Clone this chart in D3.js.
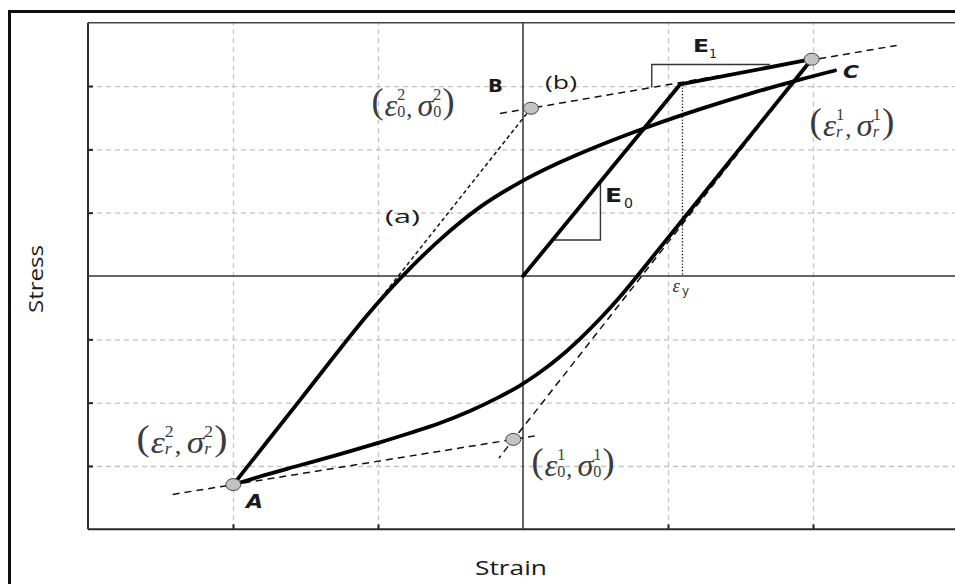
<!DOCTYPE html>
<html>
<head>
<meta charset="utf-8">
<script src="https://cdn.jsdelivr.net/npm/d3@7"></script>
<style>
  body { margin: 0; background: #fff; }
  svg { display: block; }
</style>
</head>
<body>
<svg id="chart" width="955" height="584"></svg>
<script>
// ---- Menegotto–Pinto steel hysteresis (schematic units) ----
const xDomain = [-3, 3];
const yDomain = [-4, 4];
const xTicks = [-2, -1, 1, 2];
const yTicks = [-3, -2, -1, 1, 2, 3];

// monotonic loading: elastic (E0) up to yield, then hardening (E1) to first reversal
const loadingPath = [[0, 0], [1.083, 3.025], [1.991, 3.423]];
// unloading from (εr1, σr1) down to reversal point A
const unloadingPath = [
  [1.991, 3.423], [1.388, 1.706], [0.784, -0.011], [0.669, -0.327], [0.531, -0.675],
  [0.393, -0.991], [0.255, -1.275], [0.117, -1.521], [-0.021, -1.73], [-0.159, -1.904],
  [-0.366, -2.131], [-0.572, -2.322], [-0.779, -2.48], [-0.986, -2.627], [-1.262, -2.812],
  [-1.538, -2.989], [-1.814, -3.166], [-1.998, -3.294]
];
// reloading branch (a) from A towards C
const reloadingPath = [
  [-1.998, -3.294], [-1.538, -1.959], [-1.079, -0.632], [-0.848, -0.041], [-0.572, 0.575],
  [-0.297, 1.087], [-0.021, 1.479], [0.255, 1.795], [0.531, 2.066], [0.876, 2.366],
  [1.221, 2.635], [1.566, 2.88], [1.91, 3.101], [2.152, 3.245]
];
// asymptotes (slope E1) and elastic lines (slope E0)
const upperAsymptote = [[-0.159, 2.566], [2.577, 3.641]];
const lowerAsymptote = [[-2.416, -3.449], [0.117, -2.512]];
const elasticReload = [[-1.998, -3.294], [0.055, 2.649]];
const elasticUnload = [[1.991, 3.423], [-0.166, -2.875]];
const yieldStrain = 1.10;
const yieldStress = 3.025;

const keyPoints = [
  { id: "A", strain: -1.998, stress: -3.294 },
  { id: "B", strain: 0.055, stress: 2.649 },
  { id: "r1", strain: 1.991, stress: 3.423 },
  { id: "o1", strain: -0.067, stress: -2.58 }
];

const svg = d3.select("#chart");
const x = d3.scaleLinear().domain(xDomain).range([88, 958]);
const y = d3.scaleLinear().domain(yDomain).range([529.3, 22.7]);

// outer frame
svg.append("rect")
  .attr("x", 9.5).attr("y", 11.5).attr("width", 1000).attr("height", 1000)
  .attr("fill", "none").attr("stroke", "#111").attr("stroke-width", 3);

// dashed grid
const gx = svg.append("g").attr("transform", `translate(0,${y(yDomain[0])})`)
  .call(d3.axisBottom(x).tickValues(xTicks).tickSize(-(y(yDomain[0]) - y(yDomain[1]))).tickFormat(""));
const gy = svg.append("g").attr("transform", `translate(${x(xDomain[0])},0)`)
  .call(d3.axisLeft(y).tickValues(yTicks).tickSize(-(x(xDomain[1]) - x(xDomain[0]))).tickFormat(""));
[gx, gy].forEach(g => {
  g.select(".domain").remove();
  g.selectAll(".tick line").attr("stroke", "#c4c4c4").attr("stroke-width", 1.3).attr("stroke-dasharray", "5,4");
});

// small inward ticks
const tx = svg.append("g").attr("transform", `translate(0,${y(yDomain[0])})`)
  .call(d3.axisBottom(x).tickValues(xTicks).tickSize(-5).tickFormat(""));
const ty = svg.append("g").attr("transform", `translate(${x(xDomain[0])},0)`)
  .call(d3.axisLeft(y).tickValues(yTicks).tickSize(-5).tickFormat(""));
[tx, ty].forEach(g => {
  g.select(".domain").remove();
  g.selectAll(".tick line").attr("stroke", "#222").attr("stroke-width", 2);
});

// plot border (left, top, bottom)
svg.append("line").attr("x1", x(xDomain[0])).attr("x2", x(xDomain[0]))
  .attr("y1", y(yDomain[1])).attr("y2", y(yDomain[0])).attr("stroke", "#2a2a2a").attr("stroke-width", 2);
svg.append("line").attr("x1", x(xDomain[0])).attr("x2", x(xDomain[1]))
  .attr("y1", y(yDomain[1])).attr("y2", y(yDomain[1])).attr("stroke", "#444").attr("stroke-width", 1.6);
svg.append("line").attr("x1", x(xDomain[0])).attr("x2", x(xDomain[1]))
  .attr("y1", y(yDomain[0])).attr("y2", y(yDomain[0])).attr("stroke", "#2a2a2a").attr("stroke-width", 2);

// zero axes
svg.append("line").attr("x1", x(0)).attr("x2", x(0))
  .attr("y1", y(yDomain[1])).attr("y2", y(yDomain[0])).attr("stroke", "#333").attr("stroke-width", 1.5);
svg.append("line").attr("x1", x(xDomain[0])).attr("x2", x(xDomain[1]))
  .attr("y1", y(0)).attr("y2", y(0)).attr("stroke", "#333").attr("stroke-width", 1.5);

const straight = d3.line().x(d => x(d[0])).y(d => y(d[1]));
const smooth = d3.line().x(d => x(d[0])).y(d => y(d[1])).curve(d3.curveCatmullRom.alpha(0.5));

// asymptotes and elastic guide lines
[upperAsymptote, lowerAsymptote, elasticUnload].forEach(seg => {
  svg.append("path").attr("d", straight(seg)).attr("fill", "none")
    .attr("stroke", "#111").attr("stroke-width", 1.5).attr("stroke-dasharray", "7,5");
});
svg.append("path").attr("d", straight(elasticReload)).attr("fill", "none")
  .attr("stroke", "#111").attr("stroke-width", 1.5).attr("stroke-dasharray", "4,3");

// yield strain marker
svg.append("line").attr("x1", x(yieldStrain)).attr("x2", x(yieldStrain))
  .attr("y1", y(yieldStress)).attr("y2", y(0))
  .attr("stroke", "#111").attr("stroke-width", 1.4).attr("stroke-dasharray", "1.2,2");

// slope brackets E0 and E1
svg.append("path")
  .attr("d", straight([[0.2, 0.569], [0.534, 0.569], [0.534, 1.517]]))
  .attr("fill", "none").attr("stroke", "#333").attr("stroke-width", 1.4);
svg.append("path")
  .attr("d", straight([[0.888, 2.978], [0.888, 3.341], [1.703, 3.341]]))
  .attr("fill", "none").attr("stroke", "#333").attr("stroke-width", 1.4);

// stress–strain branches
svg.append("path").attr("d", straight(loadingPath)).attr("fill", "none")
  .attr("stroke", "#000").attr("stroke-width", 3.8).attr("stroke-linejoin", "round").attr("stroke-linecap", "round");
[unloadingPath, reloadingPath].forEach(p => {
  svg.append("path").attr("d", smooth(p)).attr("fill", "none")
    .attr("stroke", "#000").attr("stroke-width", 3.8).attr("stroke-linejoin", "round").attr("stroke-linecap", "round");
});

// reversal / origin points
svg.selectAll("ellipse.kp").data(keyPoints).join("ellipse")
  .attr("class", "kp")
  .attr("cx", d => x(d.strain)).attr("cy", d => y(d.stress))
  .attr("rx", 7.5).attr("ry", 6)
  .attr("fill", "#c3c3c3").attr("stroke", "#444").attr("stroke-width", 1);

// ---- text ----
const sansFont = "'Open Sans', 'DejaVu Sans', sans-serif";
const boldFont = "'DejaVu Sans', sans-serif";
const serifFont = "'Liberation Serif', 'DejaVu Serif', serif";

function plainText(px, py, str, size, opts = {}) {
  const t = svg.append("text").attr("x", px).attr("y", py).text(str)
    .style("font-family", opts.family || sansFont)
    .style("font-size", size + "px")
    .style("font-weight", opts.weight || "normal")
    .style("font-style", opts.style || "normal")
    .attr("fill", opts.fill || "#1a1a1a");
  if (opts.anchor) t.attr("text-anchor", opts.anchor);
  if (opts.length) t.attr("textLength", opts.length).attr("lengthAdjust", "spacingAndGlyphs");
  if (opts.transform) t.attr("transform", opts.transform);
  return t;
}

// axis titles
plainText(511, 575, "Strain", 20, { anchor: "middle", length: 72 });
plainText(0, 0, "Stress", 20, { anchor: "middle", length: 68, transform: "translate(43,279) rotate(-90)" });

// branch tags
plainText(385, 223, "(a)", 19, { length: 35 });
plainText(545, 89, "(b)", 19, { length: 32 });

// point letters
plainText(488, 92, "B", 18, { family: boldFont, weight: "bold", length: 15 });
plainText(843, 78, "C", 18, { family: boldFont, weight: "bold", style: "italic", length: 16 });
plainText(246, 508, "A", 19, { family: boldFont, weight: "bold", style: "italic", length: 17 });

// moduli labels
plainText(605, 201.5, "E", 20, { family: boldFont, weight: "bold", length: 17 });
plainText(624, 208, "0", 14, { family: boldFont, length: 9 });
plainText(693, 52, "E", 17, { family: boldFont, weight: "bold", length: 16 });
plainText(709, 58, "1", 13, { family: boldFont, length: 8 });

// yield strain symbol
plainText(672.5, 292, "ε", 19, { family: serifFont, style: "italic", fill: "#333" });
plainText(682, 295, "y", 12, { family: boldFont, fill: "#333" });

// coordinate labels (ε_sub^sup, σ_sub^sup)
function mathLabel(cx, cy, sub, sup, width) {
  const g = svg.append("g").attr("fill", "#3b3b3b");
  const inner = g.append("g");
  let cursor = 0;
  function put(str, size, dy, italic) {
    const t = inner.append("text").text(str)
      .attr("x", cursor).attr("y", dy)
      .style("font-family", serifFont)
      .style("font-size", size + "px")
      .style("font-style", italic ? "italic" : "normal");
    return t.node().getComputedTextLength();
  }
  function scripts() {
    const w1 = put(sup, 16, -4, false);
    const w2 = put(sub, 16, 13, sub === "r");
    cursor += Math.max(w1, w2) + 1;
  }
  cursor += put("(", 36, 9, false) + 1;
  cursor += put("ε", 32, 12, true);
  scripts();
  cursor += put(",", 24, 12, false) + 5;
  cursor += put("σ", 32, 12, true);
  scripts();
  cursor += put(")", 36, 9, false);
  inner.attr("transform", `translate(${-cursor / 2},0)`);
  g.attr("transform", `translate(${cx},${cy}) scale(${width / cursor},1)`);
}
mathLabel(413, 104, "0", "2", 83);
mathLabel(852, 124, "r", "1", 85);
mathLabel(182, 441, "r", "2", 91);
mathLabel(573, 464, "0", "1", 83);
</script>
</body>
</html>
